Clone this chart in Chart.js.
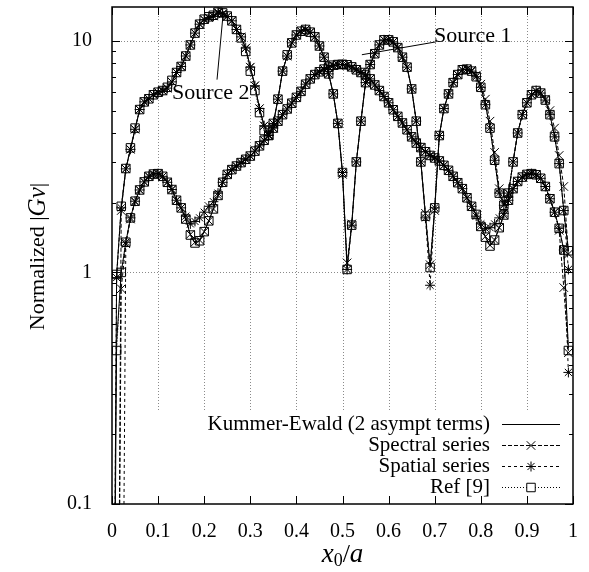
<!DOCTYPE html>
<html><head><meta charset="utf-8">
<script src="https://cdn.jsdelivr.net/npm/chart.js@4.4.1/dist/chart.umd.min.js"></script>
<style>html,body{margin:0;padding:0;background:#fff}</style>
</head><body>
<canvas id="c" width="589" height="572"></canvas>
<script>
// ---------- data ----------
const xs = [0,0.01,0.02,0.03,0.04,0.05,0.06,0.07,0.08,0.09,0.10,
 0.11,0.12,0.13,0.14,0.15,0.16,0.17,0.18,0.19,0.20,
 0.21,0.22,0.23,0.24,0.25,0.26,0.27,0.28,0.29,0.30,
 0.31,0.32,0.33,0.34,0.35,0.36,0.37,0.38,0.39,0.40,
 0.41,0.42,0.43,0.44,0.45,0.46,0.47,0.48,0.49,0.50,
 0.51,0.52,0.53,0.54,0.55,0.56,0.57,0.58,0.59,0.60,
 0.61,0.62,0.63,0.64,0.65,0.66,0.67,0.68,0.69,0.70,
 0.71,0.72,0.73,0.74,0.75,0.76,0.77,0.78,0.79,0.80,
 0.81,0.82,0.83,0.84,0.85,0.86,0.87,0.88,0.89,0.90,
 0.91,0.92,0.93,0.94,0.95,0.96,0.97,0.98,0.99];

// Source 1
const kummer1 = [0.001, 0.50,1.00,1.35,1.72,2.03,2.27,2.46,2.60,2.66,2.67,
 2.60,2.45,2.28,2.05,1.90,1.70,1.45,1.34,1.37,1.50,
 1.67,1.88,2.15,2.45,2.65,2.78,2.88,2.98,3.08,3.18,
 3.34,3.52,3.72,3.92,4.20,4.50,4.80,5.08,5.38,5.70,
 6.05,6.50,6.85,7.15,7.35,7.55,7.70,7.82,7.88,7.90,
 7.85,7.70,7.50,7.30,7.12,6.85,6.45,6.10,5.75,5.40,
 5.04,4.72,4.42,4.13,3.85,3.62,3.46,3.32,3.20,3.12,
 3.03,2.90,2.76,2.60,2.44,2.30,2.10,1.93,1.78,1.58,
 1.42,1.30,1.38,1.56,1.77,2.05,2.30,2.47,2.58,2.65,
 2.67,2.64,2.55,2.35,2.08,1.82,1.55,1.25,0.47];
const spectral1 = [0.001, 0.001,0.85,1.33,1.70,2.02,2.27,2.46,2.60,2.66,2.67,
 2.60,2.45,2.28,2.05,1.90,1.70,1.46,1.35,1.38,1.50,
 1.67,1.88,2.15,2.45,2.65,2.78,2.88,2.98,3.08,3.18,
 3.34,3.52,3.72,3.92,4.20,4.50,4.80,5.08,5.38,5.70,
 6.05,6.50,6.85,7.15,7.35,7.55,7.70,7.82,7.88,7.90,
 7.85,7.70,7.50,7.30,7.12,6.85,6.45,6.10,5.75,5.40,
 5.04,4.72,4.42,4.13,3.85,3.62,3.46,3.32,3.20,3.12,
 3.03,2.90,2.76,2.60,2.44,2.30,2.10,1.93,1.78,1.58,
 1.43,1.31,1.38,1.56,1.77,2.05,2.30,2.47,2.58,2.65,
 2.67,2.64,2.55,2.35,2.08,1.82,1.52,0.86,0.45];
const spatial1 = [0.001, 0.001,0.002,1.35,1.72,2.03,2.27,2.46,2.60,2.66,2.67,
 2.60,2.45,2.28,2.05,1.90,1.75,1.62,1.66,1.72,1.82,
 1.93,2.02,2.20,2.45,2.65,2.78,2.88,2.98,3.08,3.18,
 3.34,3.52,3.72,3.92,4.20,4.50,4.80,5.08,5.38,5.70,
 6.05,6.50,6.85,7.15,7.35,7.55,7.70,7.82,7.88,7.90,
 7.85,7.70,7.50,7.30,7.12,6.85,6.45,6.10,5.75,5.40,
 5.04,4.72,4.42,4.13,3.85,3.62,3.46,3.32,3.20,3.12,
 3.03,2.90,2.76,2.60,2.44,2.30,2.10,1.93,1.75,1.62,
 1.55,1.56,1.62,1.72,1.80,2.05,2.30,2.47,2.58,2.65,
 2.67,2.64,2.55,2.35,2.08,1.82,1.55,1.25,0.37];
const ref1 = [null, 0.46,1.00,1.35,1.72,2.03,2.27,2.46,2.60,2.66,2.67,
 2.60,2.45,2.28,2.05,1.90,1.70,1.45,1.34,1.37,1.50,
 1.67,1.88,2.15,2.45,2.65,2.78,2.88,2.98,3.08,3.18,
 3.34,3.52,3.72,3.92,4.20,4.50,4.80,5.08,5.38,5.70,
 6.05,6.50,6.85,7.15,7.35,7.55,7.70,7.85,7.90,7.92,
 7.88,7.72,7.50,7.30,7.12,6.85,6.45,6.10,5.75,5.40,
 5.04,4.72,4.42,4.13,3.85,3.62,3.46,3.32,3.20,3.12,
 3.03,2.90,2.76,2.60,2.44,2.30,2.10,1.93,1.78,1.58,
 1.42,1.30,1.38,1.56,1.77,2.05,2.30,2.47,2.58,2.65,
 2.67,2.64,2.55,2.35,2.08,1.82,1.55,1.25,0.46];

// Source 2
const kummer2 = [0.001, 0.98,1.90,2.80,3.40,4.15,5.05,5.45,5.62,5.85,6.00,
 6.08,6.25,6.65,7.30,7.75,8.60,9.60,10.80,11.80,12.35,
 12.60,12.80,13.30,13.10,12.75,12.20,11.20,10.40,9.30,7.70,
 6.40,5.10,4.30,3.90,4.40,5.60,7.40,8.60,9.80,10.60,
 11.00,11.20,10.90,10.40,9.50,8.50,7.20,5.90,4.40,2.70,
 1.05,1.60,3.00,4.50,6.60,7.90,8.80,9.60,10.10,10.10,
 9.90,9.35,8.50,7.70,6.20,4.50,3.00,1.75,1.05,1.90,
 3.90,5.10,5.90,6.60,7.15,7.50,7.55,7.40,7.00,6.30,
 5.30,4.20,3.05,2.20,1.95,2.20,3.00,4.00,4.80,5.40,
 5.85,6.10,5.95,5.55,4.80,3.85,2.95,1.85,1.24];
const spectral2 = [0.001, 0.001,1.85,2.80,3.40,4.15,5.05,5.45,5.62,5.85,6.00,
 6.08,6.25,6.65,7.30,7.75,8.60,9.60,10.80,11.80,12.35,
 12.60,12.80,13.20,13.05,12.75,12.20,11.20,10.40,9.30,7.70,
 6.40,5.10,4.30,3.90,4.40,5.60,7.40,8.60,9.80,10.60,
 11.00,11.20,10.90,10.40,9.50,8.50,7.20,5.90,4.40,2.65,
 1.10,1.62,3.00,4.50,6.60,7.90,8.80,9.60,10.10,10.10,
 9.90,9.35,8.50,7.70,6.20,4.50,3.00,1.80,1.08,1.85,
 3.90,5.10,5.90,6.60,7.15,7.50,7.55,7.45,7.10,6.50,
 5.60,4.50,3.30,2.30,1.98,2.20,3.00,4.00,4.80,5.40,
 5.85,6.05,5.95,5.60,5.00,4.20,3.20,2.35,1.20];
const spatial2 = [0.001, 0.95,1.90,2.80,3.40,4.15,5.05,5.45,5.62,5.85,6.00,
 6.08,6.25,6.65,7.30,7.75,8.60,9.60,10.80,11.80,12.35,
 12.60,12.80,13.30,13.10,12.75,12.20,11.20,10.40,9.30,7.70,
 6.40,5.10,4.30,3.90,4.40,5.60,7.40,8.60,9.80,10.60,
 11.00,11.20,10.90,10.40,9.50,8.50,7.20,5.90,4.40,2.70,
 1.03,1.60,3.00,4.50,6.60,7.90,8.80,9.60,10.10,10.10,
 9.90,9.35,8.50,7.70,6.20,4.50,3.00,1.72,0.88,1.90,
 3.90,5.10,5.90,6.60,7.15,7.50,7.55,7.40,7.00,6.30,
 5.30,4.20,3.05,2.20,1.95,2.20,3.00,4.00,4.80,5.40,
 5.85,6.10,5.95,5.55,4.80,3.85,2.95,1.85,1.03];
const ref2 = [null, 0.98,1.93,2.81,3.45,4.20,5.05,5.45,5.62,5.85,6.00,
 6.10,6.30,6.75,7.30,7.75,8.60,9.60,10.80,11.80,12.40,
 12.70,12.90,13.30,13.20,12.80,12.20,11.20,10.30,9.00,7.40,
 6.10,4.90,4.10,3.90,4.40,5.60,7.40,8.70,9.80,10.60,
 11.00,11.20,10.90,10.40,9.50,8.50,7.20,5.90,4.40,2.70,
 1.03,1.60,3.00,4.50,6.60,7.90,8.80,9.60,10.10,10.10,
 9.90,9.35,8.50,7.70,6.20,4.50,3.00,1.75,1.05,1.90,
 3.90,5.10,5.90,6.60,7.15,7.50,7.55,7.40,7.00,6.30,
 5.30,4.20,3.05,2.20,1.95,2.20,3.00,4.00,4.80,5.40,
 5.85,6.10,5.95,5.55,4.80,3.85,2.95,1.85,1.24];

// ticks
const xTicks = [0,0.1,0.2,0.3,0.4,0.5,0.6,0.7,0.8,0.9,1];
const xTickLabels = ['0','0.1','0.2','0.3','0.4','0.5','0.6','0.7','0.8','0.9','1'];
const yTicks = [0.1,1,10];
const yTickLabels = ['0.1','1','10'];
const yMinorTicks = [0.2,0.3,0.4,0.5,0.6,0.7,0.8,0.9,2,3,4,5,6,7,8,9];
const xGrid = [0.1,0.2,0.3,0.4,0.5,0.6,0.7,0.8,0.9];
const yGrid = [1,10];
const seriesLabels = ['Kummer-Ewald (2 asympt terms)','Spectral series','Spatial series','Ref [9]'];

// annotations (data coordinates)
const annotations = [
  {text:'Source 1', tx:0.6985, ty:10.5, from:[0.703, 9.9], to:[0.542, 8.71]},
  {text:'Source 2', tx:0.130, ty:5.92, from:[0.2278, 6.8], to:[0.2408, 12.9]}
];

// ---------- chart ----------
const SERIF = '"Liberation Serif","Times New Roman",serif';
const pts = arr => xs.map((x,i)=>({x:x, y:arr[i]}));

const styles = [
  {borderDash:[], pointStyle:false, pointRadius:0},
  {borderDash:[4,2], pointStyle:'crossRot', pointRadius:6},
  {borderDash:[3,3], pointStyle:'star', pointRadius:5},
  {borderDash:[1,2], pointStyle:'rect', pointRadius:6}
];
function mk(label, arr, s, legend){
  return {label, data:pts(arr), borderColor:'#000', borderWidth:1, borderDash:s.borderDash,
    pointStyle:s.pointStyle, pointRadius:s.pointRadius, pointHoverRadius:s.pointRadius,
    pointBorderColor:'#000', pointBackgroundColor:'rgba(0,0,0,0)', pointBorderWidth:1,
    tension:0, fill:false, spanGaps:false, inLegend:legend};
}
const datasets = [
  mk(seriesLabels[0], kummer1, styles[0], true),
  mk(seriesLabels[1], spectral1, styles[1], true),
  mk(seriesLabels[2], spatial1, styles[2], true),
  mk(seriesLabels[3], ref1, styles[3], true),
  mk(seriesLabels[0], kummer2, styles[0], false),
  mk(seriesLabels[1], spectral2, styles[1], false),
  mk(seriesLabels[2], spatial2, styles[2], false),
  mk(seriesLabels[3], ref2, styles[3], false)
];

function marker(ctx, style, x, y, r){
  ctx.beginPath();
  if (style==='crossRot' || style==='star'){
    const d = r*Math.SQRT1_2;
    ctx.moveTo(x-d,y-d); ctx.lineTo(x+d,y+d); ctx.moveTo(x-d,y+d); ctx.lineTo(x+d,y-d);
  }
  if (style==='star'){
    ctx.moveTo(x-r,y); ctx.lineTo(x+r,y); ctx.moveTo(x,y-r); ctx.lineTo(x,y+r);
  }
  if (style==='rect'){
    const h = r*Math.SQRT1_2; ctx.rect(x-h,y-h,2*h,2*h);
  }
  ctx.stroke();
}
function rich(ctx, parts){
  let w = 0;
  parts.forEach(p=>{ctx.font=p.font; p.w=ctx.measureText(p.t).width; w+=p.w;});
  let x = -w/2;
  parts.forEach(p=>{ctx.font=p.font; ctx.fillText(p.t, x, p.dy||0); x+=p.w;});
}

const paper = {
  id:'paper',
  beforeDatasetsDraw(chart){
    const {ctx, chartArea:a, scales:{x,y}} = chart;
    ctx.save();
    ctx.strokeStyle='#8a8a8a'; ctx.lineWidth=1; ctx.setLineDash([1,2]);
    const stopY = a.bottom - 92;
    xGrid.forEach(v=>{const px=Math.round(x.getPixelForValue(v))+0.5;
      ctx.beginPath(); ctx.moveTo(px,a.top); ctx.lineTo(px,stopY); ctx.stroke();});
    yGrid.forEach(v=>{const py=Math.round(y.getPixelForValue(v))+0.5;
      ctx.beginPath(); ctx.moveTo(a.left,py); ctx.lineTo(a.right,py); ctx.stroke();});
    ctx.restore();
  },
  afterDraw(chart){
    const {ctx, chartArea:a, scales:{x,y}} = chart;
    ctx.save();
    ctx.setLineDash([]);
    ctx.strokeStyle='#000'; ctx.fillStyle='#000';
    // frame
    ctx.lineWidth=1.5;
    ctx.strokeRect(a.left, a.top, a.right-a.left, a.bottom-a.top);
    // ticks (inward, mirrored)
    ctx.lineWidth=1;
    ctx.beginPath();
    xTicks.forEach(v=>{const px=Math.round(x.getPixelForValue(v))+0.5;
      ctx.moveTo(px,a.bottom); ctx.lineTo(px,a.bottom-8);
      ctx.moveTo(px,a.top); ctx.lineTo(px,a.top+8);});
    yTicks.forEach(v=>{const py=Math.round(y.getPixelForValue(v))+0.5;
      ctx.moveTo(a.left,py); ctx.lineTo(a.left+8,py);
      ctx.moveTo(a.right,py); ctx.lineTo(a.right-8,py);});
    yMinorTicks.forEach(v=>{const py=Math.round(y.getPixelForValue(v))+0.5;
      ctx.moveTo(a.left,py); ctx.lineTo(a.left+4,py);
      ctx.moveTo(a.right,py); ctx.lineTo(a.right-4,py);});
    ctx.stroke();

    // axis titles
    ctx.textBaseline='middle'; ctx.textAlign='left';
    ctx.save();
    ctx.translate(38, (a.top+a.bottom)/2 + 1);
    ctx.rotate(-Math.PI/2);
    rich(ctx, [
      {t:'Normalized |', font:'22px '+SERIF},
      {t:'Gv', font:'italic 25px '+SERIF},
      {t:'|', font:'22px '+SERIF}
    ]);
    ctx.restore();
    ctx.save();
    ctx.textBaseline='alphabetic';
    ctx.translate((a.left+a.right)/2, 562);
    rich(ctx, [
      {t:'x', font:'italic 27px '+SERIF},
      {t:'0', font:'18px '+SERIF, dy:4},
      {t:'/', font:'26px '+SERIF},
      {t:'a', font:'italic 27px '+SERIF}
    ]);
    ctx.restore();

    // annotations
    ctx.font='22px '+SERIF; ctx.textAlign='left'; ctx.textBaseline='middle';
    annotations.forEach(an=>{
      ctx.fillText(an.text, x.getPixelForValue(an.tx), y.getPixelForValue(an.ty));
      ctx.beginPath();
      ctx.moveTo(x.getPixelForValue(an.from[0]), y.getPixelForValue(an.from[1]));
      ctx.lineTo(x.getPixelForValue(an.to[0]), y.getPixelForValue(an.to[1]));
      ctx.stroke();
    });

    // legend (gnuplot style: text right, sample line with marker)
    const rows = chart.data.datasets.filter(d=>d.inLegend);
    const textRight = a.right - 83, s0 = a.right - 71, s1 = a.right - 13;
    ctx.font='21px '+SERIF; ctx.textAlign='right';
    rows.forEach((d,i)=>{
      const cy = a.bottom - 80 + i*21;
      ctx.fillStyle='#000';
      ctx.fillText(d.label, textRight, cy);
      ctx.save();
      ctx.setLineDash(d.borderDash||[]);
      ctx.beginPath(); ctx.moveTo(s0, cy+0.5); ctx.lineTo(s1, cy+0.5); ctx.stroke();
      ctx.setLineDash([]);
      if (d.pointStyle){
        const mx = (s0+s1)/2;
        ctx.fillStyle='#fff';
        if (d.pointStyle==='rect'){const h=d.pointRadius*Math.SQRT1_2; ctx.fillRect(mx-h,cy-h,2*h,2*h);}
        marker(ctx, d.pointStyle, mx, cy+0.5, d.pointRadius);
      }
      ctx.restore();
    });
    ctx.restore();
  }
};

new Chart(document.getElementById('c'), {
  type:'line',
  data:{datasets},
  options:{
    responsive:false, animation:false, devicePixelRatio:1,
    layout:{padding:{left:0,right:16,top:5,bottom:0}},
    plugins:{legend:{display:false}, tooltip:{enabled:false}},
    scales:{
      x:{type:'linear', min:0, max:1,
        grid:{display:false}, border:{display:false},
        afterBuildTicks:s=>{s.ticks = xTicks.map(v=>({value:v}));},
        afterFit:s=>{s.height=68; s.paddingLeft=0; s.paddingRight=0;},
        ticks:{autoSkip:false, maxRotation:0, padding:8, color:'#000',
          font:{family:SERIF, size:20},
          callback:(v,i)=>xTickLabels[i]}},
      y:{type:'logarithmic', min:0.1, max:14,
        grid:{display:false}, border:{display:false},
        afterBuildTicks:s=>{s.ticks = yTicks.map(v=>({value:v}));},
        afterFit:s=>{s.width=112; s.paddingTop=0; s.paddingBottom=0;},
        ticks:{autoSkip:false, padding:12, color:'#000',
          font:{family:SERIF, size:20},
          callback:(v,i)=>yTickLabels[i]}}
    }
  },
  plugins:[paper]
});
</script>
</body></html>
